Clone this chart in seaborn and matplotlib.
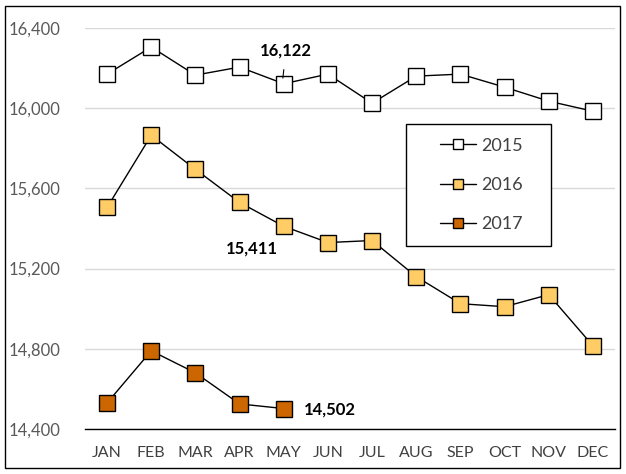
import matplotlib
matplotlib.use("Agg")
import matplotlib.pyplot as plt
import seaborn as sns
import pandas as pd
from matplotlib.patches import Rectangle
from matplotlib.lines import Line2D

months = ["JAN", "FEB", "MAR", "APR", "MAY", "JUN", "JUL", "AUG", "SEP", "OCT", "NOV", "DEC"]
v2015 = [16170, 16305, 16165, 16205, 16122, 16170, 16025, 16160, 16170, 16105, 16035, 15985]
v2016 = [15505, 15865, 15695, 15530, 15411, 15330, 15340, 15160, 15025, 15010, 15070, 14815]
v2017 = [14530, 14790, 14680, 14525, 14502]
yticks = [14400, 14800, 15200, 15600, 16000, 16400]
ytick_labels = ["14,400", "14,800", "15,200", "15,600", "16,000", "16,400"]

sns.set_theme(style="white")
plt.rcParams['font.family'] = ['Lato', 'DejaVu Sans']

fig = plt.figure(figsize=(6.26, 4.74), dpi=100)
ax = fig.add_axes([85/626, 1-429/474, 530/626, 401/474])

series = [("2015", v2015, "#FFFFFF"), ("2016", v2016, "#FFCC66"), ("2017", v2017, "#CC6600")]
for name, vals, fc in series:
    df = pd.DataFrame({"x": list(range(len(vals))), "y": vals})
    sns.lineplot(data=df, x="x", y="y", ax=ax, color="black", linewidth=1,
                 marker="s", markersize=11, markerfacecolor=fc,
                 markeredgecolor="black", markeredgewidth=1, zorder=3)

ax.set_xlim(-0.5, 11.5)
ax.set_ylim(14400, 16400)
ax.set_xticks(range(12))
ax.set_xticklabels(months)
ax.set_yticks(yticks)
ax.set_yticklabels(ytick_labels)
ax.set_xlabel("")
ax.set_ylabel("")
ax.tick_params(axis="x", length=0, pad=12, labelsize=11.5, labelcolor="#404040")
ax.tick_params(axis="y", length=0, pad=18, labelsize=12, labelcolor="#595959")
ax.grid(axis="y", color="#D9D9D9", linewidth=1)
ax.set_axisbelow(True)
for s in ["top", "right", "left"]:
    ax.spines[s].set_visible(False)
ax.spines["bottom"].set_color("#000000")
ax.spines["bottom"].set_linewidth(1)

# annotations
ax.annotate("16,122", xy=(3.98, 16150), xytext=(4.05, 16290), ha="center", va="center",
            fontsize=12, fontweight="bold", color="black",
            arrowprops=dict(arrowstyle="-", color="black", lw=0.8, shrinkA=6, shrinkB=0))
ax.text(3.28, 15300, "15,411", ha="center", va="center", fontsize=12, fontweight="bold", color="black")
ax.text(4.46, 14495, "14,502", ha="left", va="center", fontsize=12, fontweight="bold", color="black")

# legend box
lx, ly, lw_, lh = (406-85)/530, (429-246)/401, 145/530, 122/401
ax.add_patch(Rectangle((lx, ly), lw_, lh, transform=ax.transAxes, facecolor="white",
                       edgecolor="black", linewidth=1, zorder=4))
handles = [Line2D([], [], color="black", lw=1, marker="s", markersize=7,
                  markerfacecolor=fc, markeredgecolor="black", markeredgewidth=1)
           for _, _, fc in series]
leg = ax.legend(handles, [s[0] for s in series], loc="center",
                bbox_to_anchor=(lx + 0.006, ly, lw_, lh),
                frameon=False, fontsize=13, labelspacing=1.3, handlelength=2.0,
                handletextpad=0.3, borderpad=0.8, borderaxespad=0, labelcolor="#404040")
leg.set_zorder(5)

fig.patches.append(Rectangle((5/626, 6/474), 615/626, 462/474, transform=fig.transFigure,
                             fill=False, edgecolor="black", linewidth=1))

fig.savefig("out.png", dpi=100)
